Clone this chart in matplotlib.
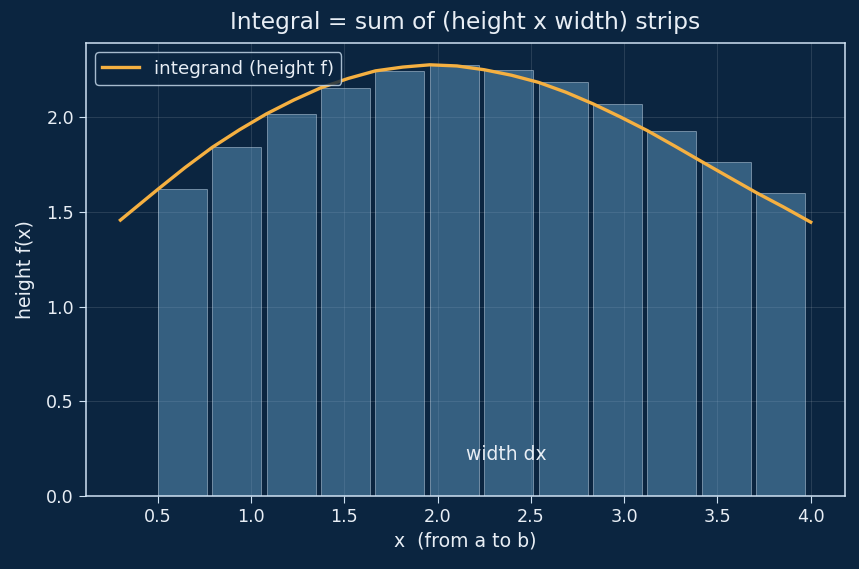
import numpy as np
import matplotlib
matplotlib.use('Agg')
import matplotlib.pyplot as plt

# interval and strips
a, b = 0.5, 4.0
n_strips = 12
strip_heights = [1.620, 1.842, 2.019, 2.157, 2.246, 2.278,
                 2.252, 2.185, 2.072, 1.930, 1.766, 1.603]

# integrand
curve_x = [0.30, 0.40, 0.50, 0.646, 0.792, 0.938, 1.083, 1.229, 1.375,
           1.521, 1.667, 1.813, 1.958, 2.104, 2.25, 2.396, 2.542, 2.688,
           2.833, 2.979, 3.125, 3.271, 3.417, 3.563, 3.708, 3.854, 4.0]
curve_y = [1.458, 1.539, 1.620, 1.735, 1.842, 1.935, 2.019, 2.092, 2.157,
           2.206, 2.246, 2.266, 2.278, 2.272, 2.252, 2.223, 2.185, 2.133,
           2.072, 2.003, 1.930, 1.849, 1.766, 1.684, 1.603, 1.527, 1.447]

bg = '#0b2540'
fg = '#e8eef5'
spine = '#cfe2f3'

dx = (b - a) / n_strips
lefts = a + dx * np.arange(n_strips)

fig, ax = plt.subplots(figsize=(8.59, 5.69), dpi=100)
fig.patch.set_facecolor(bg)
ax.set_facecolor(bg)
fig.subplots_adjust(left=0.1, right=0.984, top=0.924, bottom=0.128)

ax.bar(lefts, strip_heights, width=dx * 0.9, align='edge',
       color='#6aa6cf', alpha=0.45, edgecolor='#d6e8f7', linewidth=0.7)
ax.plot(curve_x, curve_y, color='#f5b041', lw=2.4, label='integrand (height f)')

ax.text(lefts[6] + dx * 0.4, 0.22, 'width dx', color=fg, fontsize=13.5,
        ha='center', va='center')

ax.grid(True, color='white', alpha=0.12, lw=0.7)
ax.set_axisbelow(True)
for s in ax.spines.values():
    s.set_color(spine)
    s.set_linewidth(1.1)
ax.tick_params(colors=spine, labelcolor=fg, labelsize=12.6, length=5)

ax.set_title('Integral = sum of (height x width) strips', color=fg,
             fontsize=16.8, pad=10)
ax.set_xlabel('x  (from a to b)', color=fg, fontsize=13.6)
ax.set_ylabel('height f(x)', color=fg, fontsize=13.6, labelpad=8)

leg = ax.legend(loc='upper left', fontsize=13.2, facecolor=bg, edgecolor=spine,
                framealpha=0.8)
for t in leg.get_texts():
    t.set_color(fg)

fig.savefig('out.png', dpi=100, facecolor=bg)
